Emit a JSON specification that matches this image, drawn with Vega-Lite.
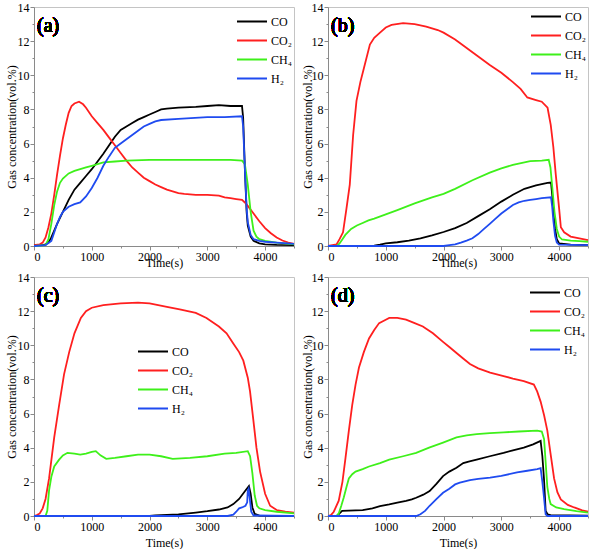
{
"$schema": "https://vega.github.io/schema/vega-lite/v6.json",
"padding": {"left": 4, "top": 0, "right": 0, "bottom": 0},
"bounds": "flush",
"columns": 2,
"spacing": {"row": 31, "column": 34},
"resolve": {"scale": {"color": "independent"}, "legend": {"color": "independent"}},
"config": {
  "font": "Liberation Serif, Times New Roman, Times, DejaVu Serif, serif",
  "view": {"stroke": "#c4c4c4", "strokeWidth": 1},
  "axis": {"grid": false, "labelOverlap": false, "domainColor": "#8a8a8a", "tickColor": "#8a8a8a", "labelColor": "#000000", "titleColor": "#000000", "labelFontSize": 12, "titleFontSize": 12, "titleFontWeight": "normal", "labelFont": "Liberation Serif, Times New Roman, Times, DejaVu Serif, serif", "titleFont": "Liberation Serif, Times New Roman, Times, DejaVu Serif, serif", "labelPadding": 1},
  "legend": {"symbolType": "stroke", "symbolSize": 900, "symbolStrokeWidth": 2.2, "labelFontSize": 12, "labelFont": "Liberation Serif, Times New Roman, Times, DejaVu Serif, serif", "labelColor": "#000000", "clipHeight": 17, "rowPadding": 2, "padding": 0, "labelOffset": 3},
  "text": {"font": "Liberation Serif, Times New Roman, Times, DejaVu Serif, serif"},
  "line": {"strokeWidth": 1.8, "clip": true}
},
"datasets": {
"a": [
{"g":"CO","t":0,"v":0.05},{"g":"CO","t":150,"v":0.05},{"g":"CO","t":200,"v":0.1},{"g":"CO","t":250,"v":0.2},{"g":"CO","t":300,"v":0.5},{"g":"CO","t":400,"v":1.3},{"g":"CO","t":500,"v":2.0},{"g":"CO","t":600,"v":2.7},{"g":"CO","t":700,"v":3.3},{"g":"CO","t":800,"v":3.7},{"g":"CO","t":900,"v":4.1},{"g":"CO","t":1000,"v":4.5},{"g":"CO","t":1100,"v":4.95},{"g":"CO","t":1200,"v":5.4},{"g":"CO","t":1300,"v":5.9},{"g":"CO","t":1400,"v":6.4},{"g":"CO","t":1500,"v":6.8},{"g":"CO","t":1600,"v":7.0},{"g":"CO","t":1700,"v":7.2},{"g":"CO","t":1800,"v":7.4},{"g":"CO","t":1900,"v":7.55},{"g":"CO","t":2000,"v":7.7},{"g":"CO","t":2100,"v":7.85},{"g":"CO","t":2200,"v":8.0},{"g":"CO","t":2300,"v":8.05},{"g":"CO","t":2500,"v":8.1},{"g":"CO","t":2800,"v":8.15},{"g":"CO","t":3000,"v":8.2},{"g":"CO","t":3200,"v":8.25},{"g":"CO","t":3400,"v":8.2},{"g":"CO","t":3600,"v":8.2},{"g":"CO","t":3620,"v":7.5},{"g":"CO","t":3650,"v":4.5},{"g":"CO","t":3680,"v":2.0},{"g":"CO","t":3700,"v":1.2},{"g":"CO","t":3750,"v":0.55},{"g":"CO","t":3800,"v":0.3},{"g":"CO","t":3900,"v":0.15},{"g":"CO","t":4000,"v":0.1},{"g":"CO","t":4200,"v":0.07},{"g":"CO","t":4500,"v":0.05},
{"g":"CO₂","t":0,"v":0.05},{"g":"CO₂","t":100,"v":0.1},{"g":"CO₂","t":150,"v":0.2},{"g":"CO₂","t":200,"v":0.5},{"g":"CO₂","t":250,"v":1.1},{"g":"CO₂","t":300,"v":1.9},{"g":"CO₂","t":350,"v":3.0},{"g":"CO₂","t":400,"v":4.2},{"g":"CO₂","t":450,"v":5.3},{"g":"CO₂","t":500,"v":6.3},{"g":"CO₂","t":550,"v":7.1},{"g":"CO₂","t":600,"v":7.8},{"g":"CO₂","t":650,"v":8.2},{"g":"CO₂","t":700,"v":8.35},{"g":"CO₂","t":780,"v":8.45},{"g":"CO₂","t":850,"v":8.3},{"g":"CO₂","t":900,"v":8.1},{"g":"CO₂","t":1000,"v":7.6},{"g":"CO₂","t":1100,"v":7.2},{"g":"CO₂","t":1200,"v":6.8},{"g":"CO₂","t":1300,"v":6.35},{"g":"CO₂","t":1400,"v":5.9},{"g":"CO₂","t":1500,"v":5.45},{"g":"CO₂","t":1600,"v":5.0},{"g":"CO₂","t":1700,"v":4.6},{"g":"CO₂","t":1800,"v":4.3},{"g":"CO₂","t":1900,"v":4.0},{"g":"CO₂","t":2000,"v":3.8},{"g":"CO₂","t":2100,"v":3.6},{"g":"CO₂","t":2200,"v":3.45},{"g":"CO₂","t":2300,"v":3.3},{"g":"CO₂","t":2400,"v":3.2},{"g":"CO₂","t":2500,"v":3.1},{"g":"CO₂","t":2600,"v":3.05},{"g":"CO₂","t":2800,"v":3.0},{"g":"CO₂","t":3000,"v":3.0},{"g":"CO₂","t":3200,"v":2.95},{"g":"CO₂","t":3300,"v":2.85},{"g":"CO₂","t":3400,"v":2.8},{"g":"CO₂","t":3500,"v":2.75},{"g":"CO₂","t":3600,"v":2.7},{"g":"CO₂","t":3650,"v":2.55},{"g":"CO₂","t":3700,"v":2.35},{"g":"CO₂","t":3800,"v":1.9},{"g":"CO₂","t":3900,"v":1.45},{"g":"CO₂","t":4000,"v":1.05},{"g":"CO₂","t":4100,"v":0.75},{"g":"CO₂","t":4200,"v":0.5},{"g":"CO₂","t":4300,"v":0.32},{"g":"CO₂","t":4400,"v":0.2},{"g":"CO₂","t":4500,"v":0.12},
{"g":"CH₄","t":0,"v":0},{"g":"CH₄","t":200,"v":0.05},{"g":"CH₄","t":250,"v":0.4},{"g":"CH₄","t":300,"v":1.3},{"g":"CH₄","t":350,"v":2.4},{"g":"CH₄","t":400,"v":3.2},{"g":"CH₄","t":450,"v":3.7},{"g":"CH₄","t":500,"v":3.95},{"g":"CH₄","t":600,"v":4.25},{"g":"CH₄","t":700,"v":4.4},{"g":"CH₄","t":800,"v":4.5},{"g":"CH₄","t":900,"v":4.6},{"g":"CH₄","t":1000,"v":4.7},{"g":"CH₄","t":1100,"v":4.8},{"g":"CH₄","t":1200,"v":4.9},{"g":"CH₄","t":1400,"v":4.95},{"g":"CH₄","t":1600,"v":5.0},{"g":"CH₄","t":2000,"v":5.05},{"g":"CH₄","t":2500,"v":5.05},{"g":"CH₄","t":3000,"v":5.05},{"g":"CH₄","t":3400,"v":5.05},{"g":"CH₄","t":3600,"v":5.0},{"g":"CH₄","t":3650,"v":4.8},{"g":"CH₄","t":3700,"v":3.6},{"g":"CH₄","t":3750,"v":2.0},{"g":"CH₄","t":3800,"v":0.9},{"g":"CH₄","t":3850,"v":0.55},{"g":"CH₄","t":3900,"v":0.4},{"g":"CH₄","t":4000,"v":0.3},{"g":"CH₄","t":4200,"v":0.2},{"g":"CH₄","t":4500,"v":0.1},
{"g":"H₂","t":0,"v":0},{"g":"H₂","t":200,"v":0.05},{"g":"H₂","t":300,"v":0.3},{"g":"H₂","t":350,"v":0.8},{"g":"H₂","t":400,"v":1.3},{"g":"H₂","t":450,"v":1.7},{"g":"H₂","t":500,"v":2.0},{"g":"H₂","t":600,"v":2.3},{"g":"H₂","t":700,"v":2.45},{"g":"H₂","t":800,"v":2.55},{"g":"H₂","t":900,"v":2.9},{"g":"H₂","t":1000,"v":3.4},{"g":"H₂","t":1100,"v":4.0},{"g":"H₂","t":1200,"v":4.7},{"g":"H₂","t":1300,"v":5.25},{"g":"H₂","t":1400,"v":5.75},{"g":"H₂","t":1500,"v":6.0},{"g":"H₂","t":1600,"v":6.25},{"g":"H₂","t":1700,"v":6.5},{"g":"H₂","t":1800,"v":6.75},{"g":"H₂","t":1900,"v":7.0},{"g":"H₂","t":2000,"v":7.15},{"g":"H₂","t":2100,"v":7.3},{"g":"H₂","t":2200,"v":7.38},{"g":"H₂","t":2500,"v":7.45},{"g":"H₂","t":3000,"v":7.55},{"g":"H₂","t":3300,"v":7.55},{"g":"H₂","t":3600,"v":7.6},{"g":"H₂","t":3620,"v":7.0},{"g":"H₂","t":3650,"v":4.5},{"g":"H₂","t":3680,"v":2.2},{"g":"H₂","t":3700,"v":1.4},{"g":"H₂","t":3750,"v":0.65},{"g":"H₂","t":3800,"v":0.4},{"g":"H₂","t":3900,"v":0.3},{"g":"H₂","t":4000,"v":0.25},{"g":"H₂","t":4200,"v":0.2},{"g":"H₂","t":4500,"v":0.12}
],
"b": [
{"g":"CO","t":0,"v":0},{"g":"CO","t":800,"v":0.02},{"g":"CO","t":900,"v":0.08},{"g":"CO","t":1000,"v":0.15},{"g":"CO","t":1200,"v":0.22},{"g":"CO","t":1400,"v":0.32},{"g":"CO","t":1600,"v":0.45},{"g":"CO","t":1800,"v":0.62},{"g":"CO","t":2000,"v":0.82},{"g":"CO","t":2200,"v":1.05},{"g":"CO","t":2400,"v":1.35},{"g":"CO","t":2600,"v":1.75},{"g":"CO","t":2800,"v":2.15},{"g":"CO","t":3000,"v":2.6},{"g":"CO","t":3200,"v":3.0},{"g":"CO","t":3400,"v":3.35},{"g":"CO","t":3600,"v":3.55},{"g":"CO","t":3800,"v":3.7},{"g":"CO","t":3860,"v":3.72},{"g":"CO","t":3880,"v":3.0},{"g":"CO","t":3900,"v":2.0},{"g":"CO","t":3930,"v":1.0},{"g":"CO","t":3960,"v":0.4},{"g":"CO","t":4000,"v":0.15},{"g":"CO","t":4200,"v":0.08},{"g":"CO","t":4500,"v":0.05},
{"g":"CO₂","t":0,"v":0},{"g":"CO₂","t":150,"v":0.1},{"g":"CO₂","t":200,"v":0.4},{"g":"CO₂","t":260,"v":0.8},{"g":"CO₂","t":320,"v":2.2},{"g":"CO₂","t":377,"v":3.6},{"g":"CO₂","t":435,"v":6.5},{"g":"CO₂","t":493,"v":8.5},{"g":"CO₂","t":560,"v":9.6},{"g":"CO₂","t":620,"v":10.4},{"g":"CO₂","t":725,"v":11.8},{"g":"CO₂","t":800,"v":12.2},{"g":"CO₂","t":900,"v":12.5},{"g":"CO₂","t":1000,"v":12.8},{"g":"CO₂","t":1100,"v":12.95},{"g":"CO₂","t":1300,"v":13.05},{"g":"CO₂","t":1500,"v":13.0},{"g":"CO₂","t":1700,"v":12.85},{"g":"CO₂","t":1900,"v":12.65},{"g":"CO₂","t":2000,"v":12.5},{"g":"CO₂","t":2200,"v":12.1},{"g":"CO₂","t":2400,"v":11.6},{"g":"CO₂","t":2600,"v":11.1},{"g":"CO₂","t":2800,"v":10.6},{"g":"CO₂","t":3000,"v":10.15},{"g":"CO₂","t":3200,"v":9.6},{"g":"CO₂","t":3333,"v":9.2},{"g":"CO₂","t":3450,"v":8.7},{"g":"CO₂","t":3600,"v":8.55},{"g":"CO₂","t":3700,"v":8.45},{"g":"CO₂","t":3800,"v":8.1},{"g":"CO₂","t":3855,"v":7.1},{"g":"CO₂","t":3900,"v":5.8},{"g":"CO₂","t":3942,"v":4.2},{"g":"CO₂","t":4000,"v":2.2},{"g":"CO₂","t":4030,"v":1.1},{"g":"CO₂","t":4087,"v":0.8},{"g":"CO₂","t":4200,"v":0.55},{"g":"CO₂","t":4350,"v":0.45},{"g":"CO₂","t":4500,"v":0.35},
{"g":"CH₄","t":0,"v":0},{"g":"CH₄","t":150,"v":0},{"g":"CH₄","t":200,"v":0.15},{"g":"CH₄","t":250,"v":0.4},{"g":"CH₄","t":300,"v":0.65},{"g":"CH₄","t":400,"v":1.0},{"g":"CH₄","t":500,"v":1.2},{"g":"CH₄","t":600,"v":1.35},{"g":"CH₄","t":700,"v":1.5},{"g":"CH₄","t":800,"v":1.6},{"g":"CH₄","t":1000,"v":1.85},{"g":"CH₄","t":1200,"v":2.1},{"g":"CH₄","t":1500,"v":2.5},{"g":"CH₄","t":1800,"v":2.85},{"g":"CH₄","t":2000,"v":3.05},{"g":"CH₄","t":2200,"v":3.35},{"g":"CH₄","t":2500,"v":3.85},{"g":"CH₄","t":2800,"v":4.3},{"g":"CH₄","t":3000,"v":4.55},{"g":"CH₄","t":3200,"v":4.75},{"g":"CH₄","t":3400,"v":4.9},{"g":"CH₄","t":3500,"v":4.97},{"g":"CH₄","t":3700,"v":5.0},{"g":"CH₄","t":3820,"v":5.05},{"g":"CH₄","t":3850,"v":4.6},{"g":"CH₄","t":3880,"v":3.5},{"g":"CH₄","t":3920,"v":2.0},{"g":"CH₄","t":3960,"v":1.0},{"g":"CH₄","t":4000,"v":0.55},{"g":"CH₄","t":4050,"v":0.38},{"g":"CH₄","t":4200,"v":0.32},{"g":"CH₄","t":4350,"v":0.28},{"g":"CH₄","t":4500,"v":0.25},
{"g":"H₂","t":0,"v":0},{"g":"H₂","t":2000,"v":0},{"g":"H₂","t":2100,"v":0.05},{"g":"H₂","t":2200,"v":0.1},{"g":"H₂","t":2300,"v":0.2},{"g":"H₂","t":2400,"v":0.32},{"g":"H₂","t":2500,"v":0.45},{"g":"H₂","t":2600,"v":0.7},{"g":"H₂","t":2700,"v":1.0},{"g":"H₂","t":2800,"v":1.3},{"g":"H₂","t":2900,"v":1.6},{"g":"H₂","t":3000,"v":1.9},{"g":"H₂","t":3100,"v":2.15},{"g":"H₂","t":3200,"v":2.4},{"g":"H₂","t":3300,"v":2.55},{"g":"H₂","t":3400,"v":2.65},{"g":"H₂","t":3500,"v":2.7},{"g":"H₂","t":3600,"v":2.75},{"g":"H₂","t":3700,"v":2.8},{"g":"H₂","t":3860,"v":2.85},{"g":"H₂","t":3880,"v":2.3},{"g":"H₂","t":3900,"v":1.5},{"g":"H₂","t":3930,"v":0.6},{"g":"H₂","t":3960,"v":0.2},{"g":"H₂","t":4000,"v":0.08},{"g":"H₂","t":4500,"v":0.05}
],
"c": [
{"g":"CO","t":0,"v":0},{"g":"CO","t":2000,"v":0},{"g":"CO","t":2100,"v":0.03},{"g":"CO","t":2500,"v":0.1},{"g":"CO","t":2800,"v":0.2},{"g":"CO","t":3000,"v":0.28},{"g":"CO","t":3200,"v":0.38},{"g":"CO","t":3350,"v":0.5},{"g":"CO","t":3450,"v":0.7},{"g":"CO","t":3550,"v":1.0},{"g":"CO","t":3650,"v":1.45},{"g":"CO","t":3720,"v":1.75},{"g":"CO","t":3750,"v":1.3},{"g":"CO","t":3780,"v":0.5},{"g":"CO","t":3820,"v":0.12},{"g":"CO","t":3900,"v":0.02},{"g":"CO","t":4500,"v":0},
{"g":"CO₂","t":0,"v":0},{"g":"CO₂","t":50,"v":0.05},{"g":"CO₂","t":100,"v":0.15},{"g":"CO₂","t":150,"v":0.45},{"g":"CO₂","t":200,"v":1.0},{"g":"CO₂","t":261,"v":2.2},{"g":"CO₂","t":350,"v":4.6},{"g":"CO₂","t":435,"v":6.5},{"g":"CO₂","t":520,"v":8.3},{"g":"CO₂","t":609,"v":9.6},{"g":"CO₂","t":700,"v":10.7},{"g":"CO₂","t":811,"v":11.6},{"g":"CO₂","t":900,"v":12.0},{"g":"CO₂","t":1000,"v":12.2},{"g":"CO₂","t":1200,"v":12.35},{"g":"CO₂","t":1500,"v":12.45},{"g":"CO₂","t":1800,"v":12.5},{"g":"CO₂","t":2000,"v":12.45},{"g":"CO₂","t":2300,"v":12.25},{"g":"CO₂","t":2522,"v":12.1},{"g":"CO₂","t":2800,"v":11.9},{"g":"CO₂","t":2985,"v":11.6},{"g":"CO₂","t":3200,"v":11.1},{"g":"CO₂","t":3333,"v":10.7},{"g":"CO₂","t":3449,"v":10.1},{"g":"CO₂","t":3550,"v":9.6},{"g":"CO₂","t":3623,"v":9.1},{"g":"CO₂","t":3700,"v":8.1},{"g":"CO₂","t":3739,"v":7.3},{"g":"CO₂","t":3797,"v":5.6},{"g":"CO₂","t":3850,"v":4.0},{"g":"CO₂","t":3913,"v":2.6},{"g":"CO₂","t":4000,"v":1.3},{"g":"CO₂","t":4087,"v":0.6},{"g":"CO₂","t":4200,"v":0.35},{"g":"CO₂","t":4350,"v":0.25},{"g":"CO₂","t":4500,"v":0.2},
{"g":"CH₄","t":0,"v":0},{"g":"CH₄","t":200,"v":0},{"g":"CH₄","t":230,"v":0.3},{"g":"CH₄","t":261,"v":1.5},{"g":"CH₄","t":300,"v":2.3},{"g":"CH₄","t":350,"v":2.9},{"g":"CH₄","t":435,"v":3.3},{"g":"CH₄","t":500,"v":3.55},{"g":"CH₄","t":580,"v":3.7},{"g":"CH₄","t":700,"v":3.65},{"g":"CH₄","t":800,"v":3.6},{"g":"CH₄","t":900,"v":3.65},{"g":"CH₄","t":1000,"v":3.75},{"g":"CH₄","t":1070,"v":3.8},{"g":"CH₄","t":1150,"v":3.55},{"g":"CH₄","t":1250,"v":3.35},{"g":"CH₄","t":1400,"v":3.4},{"g":"CH₄","t":1600,"v":3.5},{"g":"CH₄","t":1800,"v":3.6},{"g":"CH₄","t":2000,"v":3.6},{"g":"CH₄","t":2200,"v":3.5},{"g":"CH₄","t":2400,"v":3.35},{"g":"CH₄","t":2700,"v":3.4},{"g":"CH₄","t":3000,"v":3.5},{"g":"CH₄","t":3300,"v":3.65},{"g":"CH₄","t":3500,"v":3.7},{"g":"CH₄","t":3700,"v":3.8},{"g":"CH₄","t":3740,"v":3.5},{"g":"CH₄","t":3780,"v":2.5},{"g":"CH₄","t":3820,"v":1.2},{"g":"CH₄","t":3860,"v":0.6},{"g":"CH₄","t":3900,"v":0.45},{"g":"CH₄","t":4000,"v":0.35},{"g":"CH₄","t":4200,"v":0.25},{"g":"CH₄","t":4500,"v":0.15},
{"g":"H₂","t":0,"v":0},{"g":"H₂","t":3350,"v":0},{"g":"H₂","t":3450,"v":0.08},{"g":"H₂","t":3500,"v":0.25},{"g":"H₂","t":3550,"v":0.45},{"g":"H₂","t":3600,"v":0.5},{"g":"H₂","t":3660,"v":0.6},{"g":"H₂","t":3690,"v":0.8},{"g":"H₂","t":3700,"v":1.5},{"g":"H₂","t":3715,"v":1.6},{"g":"H₂","t":3735,"v":1.0},{"g":"H₂","t":3760,"v":0.25},{"g":"H₂","t":3800,"v":0.03},{"g":"H₂","t":4500,"v":0}
],
"d": [
{"g":"CO","t":0,"v":0},{"g":"CO","t":150,"v":0},{"g":"CO","t":200,"v":0.15},{"g":"CO","t":245,"v":0.3},{"g":"CO","t":477,"v":0.33},{"g":"CO","t":600,"v":0.35},{"g":"CO","t":769,"v":0.45},{"g":"CO","t":900,"v":0.58},{"g":"CO","t":1060,"v":0.68},{"g":"CO","t":1200,"v":0.78},{"g":"CO","t":1351,"v":0.88},{"g":"CO","t":1450,"v":0.97},{"g":"CO","t":1526,"v":1.07},{"g":"CO","t":1650,"v":1.25},{"g":"CO","t":1759,"v":1.46},{"g":"CO","t":1880,"v":1.9},{"g":"CO","t":1991,"v":2.34},{"g":"CO","t":2100,"v":2.6},{"g":"CO","t":2224,"v":2.83},{"g":"CO","t":2341,"v":3.1},{"g":"CO","t":2450,"v":3.2},{"g":"CO","t":2573,"v":3.3},{"g":"CO","t":2800,"v":3.5},{"g":"CO","t":3039,"v":3.7},{"g":"CO","t":3200,"v":3.85},{"g":"CO","t":3389,"v":4.0},{"g":"CO","t":3550,"v":4.2},{"g":"CO","t":3680,"v":4.4},{"g":"CO","t":3710,"v":3.5},{"g":"CO","t":3738,"v":2.2},{"g":"CO","t":3767,"v":0.3},{"g":"CO","t":3800,"v":0.1},{"g":"CO","t":3854,"v":0.05},{"g":"CO","t":4500,"v":0.02},
{"g":"CO₂","t":0,"v":0},{"g":"CO₂","t":50,"v":0.05},{"g":"CO₂","t":100,"v":0.25},{"g":"CO₂","t":186,"v":0.9},{"g":"CO₂","t":250,"v":2.0},{"g":"CO₂","t":303,"v":3.4},{"g":"CO₂","t":361,"v":5.0},{"g":"CO₂","t":419,"v":6.5},{"g":"CO₂","t":477,"v":7.7},{"g":"CO₂","t":536,"v":8.7},{"g":"CO₂","t":620,"v":9.6},{"g":"CO₂","t":710,"v":10.4},{"g":"CO₂","t":800,"v":10.9},{"g":"CO₂","t":885,"v":11.3},{"g":"CO₂","t":1000,"v":11.5},{"g":"CO₂","t":1060,"v":11.6},{"g":"CO₂","t":1200,"v":11.6},{"g":"CO₂","t":1351,"v":11.5},{"g":"CO₂","t":1500,"v":11.3},{"g":"CO₂","t":1642,"v":11.1},{"g":"CO₂","t":1816,"v":10.7},{"g":"CO₂","t":1991,"v":10.2},{"g":"CO₂","t":2100,"v":9.9},{"g":"CO₂","t":2224,"v":9.55},{"g":"CO₂","t":2350,"v":9.2},{"g":"CO₂","t":2457,"v":8.9},{"g":"CO₂","t":2600,"v":8.65},{"g":"CO₂","t":2806,"v":8.4},{"g":"CO₂","t":3039,"v":8.2},{"g":"CO₂","t":3200,"v":8.05},{"g":"CO₂","t":3389,"v":7.9},{"g":"CO₂","t":3563,"v":7.7},{"g":"CO₂","t":3620,"v":7.3},{"g":"CO₂","t":3680,"v":6.7},{"g":"CO₂","t":3740,"v":5.9},{"g":"CO₂","t":3796,"v":5.0},{"g":"CO₂","t":3850,"v":3.7},{"g":"CO₂","t":3913,"v":2.2},{"g":"CO₂","t":3970,"v":1.4},{"g":"CO₂","t":4029,"v":0.97},{"g":"CO₂","t":4150,"v":0.65},{"g":"CO₂","t":4262,"v":0.5},{"g":"CO₂","t":4400,"v":0.33},{"g":"CO₂","t":4500,"v":0.25},
{"g":"CH₄","t":0,"v":0},{"g":"CH₄","t":150,"v":0},{"g":"CH₄","t":186,"v":0.15},{"g":"CH₄","t":230,"v":0.6},{"g":"CH₄","t":274,"v":1.1},{"g":"CH₄","t":320,"v":1.7},{"g":"CH₄","t":361,"v":2.2},{"g":"CH₄","t":420,"v":2.45},{"g":"CH₄","t":477,"v":2.6},{"g":"CH₄","t":600,"v":2.75},{"g":"CH₄","t":710,"v":2.9},{"g":"CH₄","t":900,"v":3.1},{"g":"CH₄","t":1060,"v":3.3},{"g":"CH₄","t":1300,"v":3.5},{"g":"CH₄","t":1526,"v":3.7},{"g":"CH₄","t":1750,"v":4.0},{"g":"CH₄","t":1991,"v":4.3},{"g":"CH₄","t":2224,"v":4.6},{"g":"CH₄","t":2400,"v":4.72},{"g":"CH₄","t":2573,"v":4.8},{"g":"CH₄","t":2800,"v":4.85},{"g":"CH₄","t":3039,"v":4.9},{"g":"CH₄","t":3300,"v":4.95},{"g":"CH₄","t":3621,"v":5.0},{"g":"CH₄","t":3700,"v":4.95},{"g":"CH₄","t":3740,"v":4.5},{"g":"CH₄","t":3770,"v":3.0},{"g":"CH₄","t":3796,"v":1.7},{"g":"CH₄","t":3830,"v":1.0},{"g":"CH₄","t":3854,"v":0.7},{"g":"CH₄","t":3950,"v":0.5},{"g":"CH₄","t":4087,"v":0.4},{"g":"CH₄","t":4300,"v":0.28},{"g":"CH₄","t":4500,"v":0.2},
{"g":"H₂","t":0,"v":0},{"g":"H₂","t":1526,"v":0},{"g":"H₂","t":1600,"v":0.1},{"g":"H₂","t":1680,"v":0.3},{"g":"H₂","t":1759,"v":0.6},{"g":"H₂","t":1880,"v":1.0},{"g":"H₂","t":1991,"v":1.36},{"g":"H₂","t":2100,"v":1.6},{"g":"H₂","t":2200,"v":1.85},{"g":"H₂","t":2282,"v":1.95},{"g":"H₂","t":2457,"v":2.1},{"g":"H₂","t":2600,"v":2.17},{"g":"H₂","t":2806,"v":2.25},{"g":"H₂","t":3000,"v":2.35},{"g":"H₂","t":3272,"v":2.55},{"g":"H₂","t":3450,"v":2.65},{"g":"H₂","t":3621,"v":2.75},{"g":"H₂","t":3680,"v":2.8},{"g":"H₂","t":3710,"v":2.0},{"g":"H₂","t":3738,"v":1.1},{"g":"H₂","t":3767,"v":0.1},{"g":"H₂","t":3800,"v":0},{"g":"H₂","t":4500,"v":0}
]
},
"concat": [
{
 "width": 260, "height": 239,
 "data": {"name": "a"},
 "layer": [
  {"mark": "line",
   "encoding": {
    "x": {"field": "t", "type": "quantitative", "scale": {"domain": [0, 4500], "nice": false}, "axis": {"title": "Time(s)", "format": "d", "labelOverlap": false, "values": [0,500,1000,1500,2000,2500,3000,3500,4000,4500], "labelExpr": "datum.value % 1000 === 0 ? datum.label : ''", "tickSize": {"condition": {"test": "datum.value % 1000 !== 0", "value": 2}, "value": 4}, "titlePadding": -5}},
    "y": {"field": "v", "type": "quantitative", "scale": {"domain": [0, 14], "nice": false}, "axis": {"title": "Gas concentration(vol.%)", "labelOverlap": false, "values": [0,1,2,3,4,5,6,7,8,9,10,11,12,13,14], "labelExpr": "datum.value % 2 === 0 ? datum.label : ''", "tickSize": {"condition": {"test": "datum.value % 2 !== 0", "value": 2}, "value": 4}, "titlePadding": -1}},
    "color": {"field": "g", "type": "nominal", "sort": null, "scale": {"domain": ["CO", "CO₂", "CH₄", "H₂"], "range": ["#000000", "#ff1f1f", "#3ef01a", "#1f4bf0"]}, "legend": {"title": null, "orient": "none", "legendX": 202, "legendY": 6}}
   }},
  {"mark": {"type": "text", "text": "(a)", "fontSize": 20, "align": "left", "baseline": "alphabetic", "color": "#000000"},
   "encoding": {
    "x": {"datum": 52, "type": "quantitative", "axis": {"title": "Time(s)", "format": "d", "labelOverlap": false, "values": [0,500,1000,1500,2000,2500,3000,3500,4000,4500], "labelExpr": "datum.value % 1000 === 0 ? datum.label : ''", "tickSize": {"condition": {"test": "datum.value % 1000 !== 0", "value": 2}, "value": 4}, "titlePadding": -5}},
    "y": {"datum": 12.55, "type": "quantitative", "axis": {"title": "Gas concentration(vol.%)", "labelOverlap": false, "values": [0,1,2,3,4,5,6,7,8,9,10,11,12,13,14], "labelExpr": "datum.value % 2 === 0 ? datum.label : ''", "tickSize": {"condition": {"test": "datum.value % 2 !== 0", "value": 2}, "value": 4}, "titlePadding": -1}}}}
 ]
},
{
 "width": 260, "height": 239,
 "data": {"name": "b"},
 "layer": [
  {"mark": "line",
   "encoding": {
    "x": {"field": "t", "type": "quantitative", "scale": {"domain": [0, 4500], "nice": false}, "axis": {"title": "Time(s)", "format": "d", "labelOverlap": false, "values": [0,500,1000,1500,2000,2500,3000,3500,4000,4500], "labelExpr": "datum.value % 1000 === 0 ? datum.label : ''", "tickSize": {"condition": {"test": "datum.value % 1000 !== 0", "value": 2}, "value": 4}, "titlePadding": -5}},
    "y": {"field": "v", "type": "quantitative", "scale": {"domain": [0, 14], "nice": false}, "axis": {"title": "Gas concentration(vol.%)", "labelOverlap": false, "values": [0,1,2,3,4,5,6,7,8,9,10,11,12,13,14], "labelExpr": "datum.value % 2 === 0 ? datum.label : ''", "tickSize": {"condition": {"test": "datum.value % 2 !== 0", "value": 2}, "value": 4}, "titlePadding": -3}},
    "color": {"field": "g", "type": "nominal", "sort": null, "scale": {"domain": ["CO", "CO₂", "CH₄", "H₂"], "range": ["#000000", "#ff1f1f", "#3ef01a", "#1f4bf0"]}, "legend": {"title": null, "orient": "none", "legendX": 202, "legendY": 1}}
   }},
  {"mark": {"type": "text", "text": "(b)", "fontSize": 20, "align": "left", "baseline": "alphabetic", "color": "#000000"},
   "encoding": {
    "x": {"datum": 52, "type": "quantitative", "axis": {"title": "Time(s)", "format": "d", "labelOverlap": false, "values": [0,500,1000,1500,2000,2500,3000,3500,4000,4500], "labelExpr": "datum.value % 1000 === 0 ? datum.label : ''", "tickSize": {"condition": {"test": "datum.value % 1000 !== 0", "value": 2}, "value": 4}, "titlePadding": -5}},
    "y": {"datum": 12.55, "type": "quantitative", "axis": {"title": "Gas concentration(vol.%)", "labelOverlap": false, "values": [0,1,2,3,4,5,6,7,8,9,10,11,12,13,14], "labelExpr": "datum.value % 2 === 0 ? datum.label : ''", "tickSize": {"condition": {"test": "datum.value % 2 !== 0", "value": 2}, "value": 4}, "titlePadding": -3}}}}
 ]
},
{
 "width": 260, "height": 239,
 "data": {"name": "c"},
 "layer": [
  {"mark": "line",
   "encoding": {
    "x": {"field": "t", "type": "quantitative", "scale": {"domain": [0, 4500], "nice": false}, "axis": {"title": "Time(s)", "format": "d", "labelOverlap": false, "values": [0,500,1000,1500,2000,2500,3000,3500,4000,4500], "labelExpr": "datum.value % 1000 === 0 ? datum.label : ''", "tickSize": {"condition": {"test": "datum.value % 1000 !== 0", "value": 2}, "value": 4}, "titlePadding": 5}},
    "y": {"field": "v", "type": "quantitative", "scale": {"domain": [0, 14], "nice": false}, "axis": {"title": "Gas concentration(vol.%)", "labelOverlap": false, "values": [0,1,2,3,4,5,6,7,8,9,10,11,12,13,14], "labelExpr": "datum.value % 2 === 0 ? datum.label : ''", "tickSize": {"condition": {"test": "datum.value % 2 !== 0", "value": 2}, "value": 4}, "titlePadding": -1}},
    "color": {"field": "g", "type": "nominal", "sort": null, "scale": {"domain": ["CO", "CO₂", "CH₄", "H₂"], "range": ["#000000", "#ff1f1f", "#3ef01a", "#1f4bf0"]}, "legend": {"title": null, "orient": "none", "legendX": 103, "legendY": 66}}
   }},
  {"mark": {"type": "text", "text": "(c)", "fontSize": 20, "align": "left", "baseline": "alphabetic", "color": "#000000"},
   "encoding": {
    "x": {"datum": 52, "type": "quantitative", "axis": {"title": "Time(s)", "format": "d", "labelOverlap": false, "values": [0,500,1000,1500,2000,2500,3000,3500,4000,4500], "labelExpr": "datum.value % 1000 === 0 ? datum.label : ''", "tickSize": {"condition": {"test": "datum.value % 1000 !== 0", "value": 2}, "value": 4}, "titlePadding": 5}},
    "y": {"datum": 12.55, "type": "quantitative", "axis": {"title": "Gas concentration(vol.%)", "labelOverlap": false, "values": [0,1,2,3,4,5,6,7,8,9,10,11,12,13,14], "labelExpr": "datum.value % 2 === 0 ? datum.label : ''", "tickSize": {"condition": {"test": "datum.value % 2 !== 0", "value": 2}, "value": 4}, "titlePadding": -1}}}}
 ]
},
{
 "width": 260, "height": 239,
 "data": {"name": "d"},
 "layer": [
  {"mark": "line",
   "encoding": {
    "x": {"field": "t", "type": "quantitative", "scale": {"domain": [0, 4500], "nice": false}, "axis": {"title": "Time(s)", "format": "d", "labelOverlap": false, "values": [0,500,1000,1500,2000,2500,3000,3500,4000,4500], "labelExpr": "datum.value % 1000 === 0 ? datum.label : ''", "tickSize": {"condition": {"test": "datum.value % 1000 !== 0", "value": 2}, "value": 4}, "titlePadding": 5}},
    "y": {"field": "v", "type": "quantitative", "scale": {"domain": [0, 14], "nice": false}, "axis": {"title": "Gas concentration(vol.%)", "labelOverlap": false, "values": [0,1,2,3,4,5,6,7,8,9,10,11,12,13,14], "labelExpr": "datum.value % 2 === 0 ? datum.label : ''", "tickSize": {"condition": {"test": "datum.value % 2 !== 0", "value": 2}, "value": 4}, "titlePadding": -3}},
    "color": {"field": "g", "type": "nominal", "sort": null, "scale": {"domain": ["CO", "CO₂", "CH₄", "H₂"], "range": ["#000000", "#ff1f1f", "#3ef01a", "#1f4bf0"]}, "legend": {"title": null, "orient": "none", "legendX": 201, "legendY": 7}}
   }},
  {"mark": {"type": "text", "text": "(d)", "fontSize": 20, "align": "left", "baseline": "alphabetic", "color": "#000000"},
   "encoding": {
    "x": {"datum": 52, "type": "quantitative", "axis": {"title": "Time(s)", "format": "d", "labelOverlap": false, "values": [0,500,1000,1500,2000,2500,3000,3500,4000,4500], "labelExpr": "datum.value % 1000 === 0 ? datum.label : ''", "tickSize": {"condition": {"test": "datum.value % 1000 !== 0", "value": 2}, "value": 4}, "titlePadding": 5}},
    "y": {"datum": 12.55, "type": "quantitative", "axis": {"title": "Gas concentration(vol.%)", "labelOverlap": false, "values": [0,1,2,3,4,5,6,7,8,9,10,11,12,13,14], "labelExpr": "datum.value % 2 === 0 ? datum.label : ''", "tickSize": {"condition": {"test": "datum.value % 2 !== 0", "value": 2}, "value": 4}, "titlePadding": -3}}}}
 ]
}
]
}
